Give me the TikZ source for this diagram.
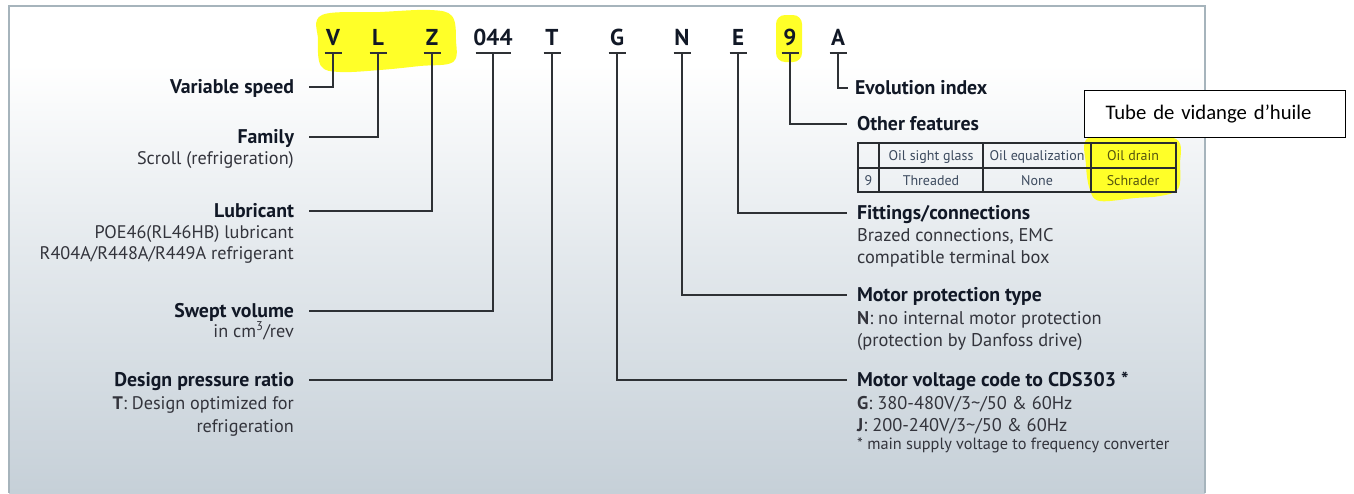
\documentclass[tikz,border=0pt]{standalone}
\usepackage{fontspec}
\setmainfont{PT Sans}
\newfontfamily\calib{Carlito}
\definecolor{ink}{HTML}{111826}
\definecolor{descink}{HTML}{33343C}
\definecolor{tabink}{HTML}{3C4A5E}
\definecolor{olive}{HTML}{55550F}
\definecolor{linec}{HTML}{2E3135}
\definecolor{framec}{HTML}{A6B4BC}
\definecolor{bgbot}{HTML}{C6D0D8}
\definecolor{bgmid}{HTML}{E4E9ED}
\definecolor{hl}{RGB}{255,255,40}
\pgfdeclareverticalshading{bgshade}{100bp}{color(0bp)=(bgbot); color(25bp)=(bgbot); color(50bp)=(bgmid); color(69bp)=(white); color(100bp)=(white)}
\begin{document}
\begin{tikzpicture}[x=1pt,y=-1pt,
  code/.style={font=\fontsize{23}{23}\selectfont\bfseries, text=ink, anchor=base, inner sep=0pt},
  lhead/.style={font=\fontsize{19.8}{21}\selectfont\bfseries, text=ink, anchor=base east, inner sep=0pt, outer xsep=15pt, text height=13pt, text depth=0pt},
  rhead/.style={font=\fontsize{19.8}{21}\selectfont\bfseries, text=ink, anchor=base west, inner sep=0pt, outer xsep=10pt, text height=13pt, text depth=0pt},
  ldesc/.style={font=\fontsize{18.2}{20}\selectfont, text=descink, anchor=base east, inner sep=0pt},
  rdesc/.style={font=\fontsize{18.4}{20}\selectfont, text=descink, anchor=base west, inner sep=0pt},
  foot/.style={font=\fontsize{16.3}{18}\selectfont, text=descink, anchor=base west, inner sep=0pt},
  tab/.style={font=\fontsize{14}{16}\selectfont, text=tabink, anchor=base, inner sep=0pt},
  tabhl/.style={font=\fontsize{14}{16}\selectfont, text=olive, anchor=base, inner sep=0pt},
  conn/.style={draw=linec, line width=2pt},
  uline/.style={draw=linec, line width=2pt},
  tabline/.style={draw=linec!90!black, line width=1.6pt},
  frame/.style={draw=framec, line width=2.5pt},
  note/.style={draw=black, line width=1.1pt, fill=white, minimum width=261pt, minimum height=47pt, font=\calib\fontsize{20.7}{22}\selectfont, text=black, inner sep=0pt}
]
\useasboundingbox (0,0) rectangle (1354,493);
\fill[white] (0,0) rectangle (1354,493);
% background panel
\shade[shading=bgshade] (9,6) rectangle (1205,493);
\draw[frame] (9,493) -- (9,6) -- (1205,6) -- (1205,493);

% highlights
\fill[hl] plot[smooth cycle, tension=0.6] coordinates {(322,15) (380,12) (430,10) (452,16) (456,40) (453,62) (420,66) (380,70) (340,72) (321,66) (318,40)};
\fill[hl, rounded corners=9pt] (776,15) rectangle (802,62);
\fill[hl] plot[smooth cycle, tension=0.6] coordinates {(1088,138) (1130,137) (1176,139) (1180,165) (1178,189) (1160,196) (1135,198) (1100,201) (1090,190) (1086,165)};

% code letters
\node[code] (cV) at (333,45.5) {V};
\node[code] (cL) at (378,45.5) {L};
\node[code] (cZ) at (432,45.5) {Z};
\node[code] (c044) at (493,45.5) {044};
\node[code] (cT) at (552,45.5) {T};
\node[code] (cG) at (617,45.5) {G};
\node[code] (cN) at (682,45.5) {N};
\node[code] (cE) at (738,45.5) {E};
\node[code] (c9) at (790,45.5) {9};
\node[code] (cA) at (838,45.5) {A};
\foreach \n/\w in {V/8.5,L/8.5,Z/8.5,T/8.5,G/8.5,N/8.5,E/8.5,9/8.5,A/8.5,044/17.5}{
  \coordinate (u\n) at ([yshift=-7pt]c\n.base);
  \draw[uline] ([xshift=-\w pt]u\n) -- ([xshift=\w pt]u\n);
}

% left labels
\node[lhead] (hVar) at (309,93.5) {Variable speed};
\node[lhead] (hFam) at (309,143.5) {Family};
\node[ldesc] (dFam) at (294,164) {Scroll (refrigeration)};
\node[lhead] (hLub) at (309,217.5) {Lubricant};
\node[ldesc] (dLub1) at (294,238) {POE46(RL46HB) lubricant};
\node[ldesc] (dLub2) at (294,259) {R404A/R448A/R449A refrigerant};
\node[lhead] (hSw) at (309,317) {Swept volume};
\node[ldesc] (dSw) at (294,337) {in cm\textsuperscript{3}/rev};
\node[lhead] (hDes) at (309,386) {Design pressure ratio};
\node[ldesc] (dDes1) at (294,409) {\textbf{T}: Design optimized for};
\node[ldesc] (dDes2) at (294,432) {refrigeration};

% right labels
\node[rhead, outer xsep=7pt] (hEvo) at (848,94.5) {Evolution index};
\node[rhead] (hOth) at (847,130) {Other features};
\node[rhead] (hFit) at (847,219) {Fittings/connections};
\node[rdesc] (dFit1) at (857,241) {Brazed connections, EMC};
\node[rdesc] (dFit2) at (857,263.5) {compatible terminal box};
\node[rhead] (hMot) at (847,301.5) {Motor protection type};
\node[rdesc] (dMot1) at (857,324) {\textbf{N}: no internal motor protection};
\node[rdesc] (dMot2) at (857,346.5) {(protection by Danfoss drive)};
\node[rhead] (hVol) at (847,386.5) {Motor voltage code to CDS303 *};
\node[rdesc] (dVol1) at (857,409) {\textbf{G}: 380-480V/3\textasciitilde/50 \& 60Hz};
\node[rdesc] (dVol2) at (857,431) {\textbf{J}: 200-240V/3\textasciitilde/50 \& 60Hz};
\node[foot] (dVol3) at (857,449.5) {* main supply voltage to frequency converter};

% connectors
\draw[conn] (uV) |- (hVar.east);
\draw[conn] (uL) |- (hFam.east);
\draw[conn] (uZ) |- (hLub.east);
\draw[conn] (u044) |- (hSw.east);
\draw[conn] (uT) |- (hDes.east);
\draw[conn] (uG) |- (hVol.west);
\draw[conn] (uN) |- (hMot.west);
\draw[conn] (uE) |- (hFit.west);
\draw[conn] (u9) |- (hOth.west);
\draw[conn] (uA) |- (hEvo.west);

% table
\draw[tabline] (858,143) rectangle (1176,192);
\draw[tabline] (858,168) -- (1176,168);
\foreach \cx in {879,983,1091}{\draw[tabline] (\cx,143) -- (\cx,192);}
\node[tab] (t12) at (931,160.5) {Oil sight glass};
\node[tab] (t13) at (1037,160.5) {Oil equalization};
\node[tabhl] (t14) at (1133,160.5) {Oil drain};
\node[tab] (t21) at (868.5,185) {9};
\node[tab] (t22) at (931,185) {Threaded};
\node[tab] (t23) at (1037,185) {None};
\node[tabhl] (t24) at (1133,185) {Schrader};

% annotation box
\node[note, anchor=north west, text width=219pt, align=left] (box) at (1084,90) {Tube de vidange d’huile};
\end{tikzpicture}
\end{document}
